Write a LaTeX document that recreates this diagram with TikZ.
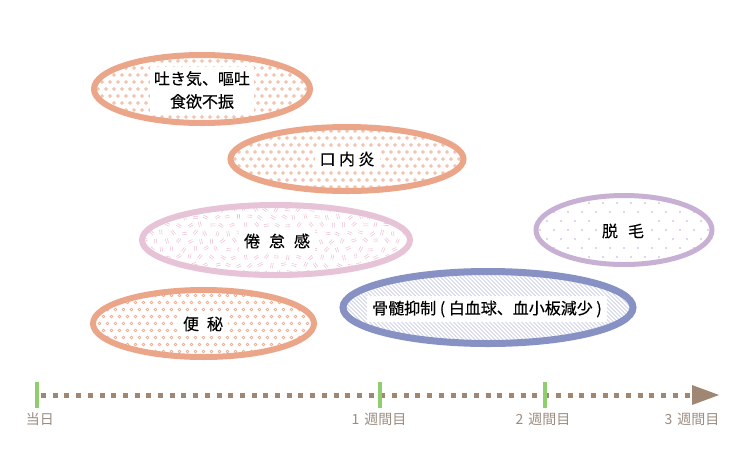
\documentclass[tikz,border=0pt]{standalone}
\usepackage{fontspec}
\setmainfont{Noto Sans CJK JP}
\newfontfamily\labfont[FakeBold=0.35]{Noto Sans CJK JP}
\definecolor{orng}{HTML}{EBA68A}
\definecolor{orngl}{HTML}{EFAE93}
\definecolor{pnk}{HTML}{E6C3D6}
\definecolor{pnkl}{HTML}{EFC0D5}
\definecolor{prp}{HTML}{C7B0D3}
\definecolor{prpl}{HTML}{C9A6D8}
\definecolor{blu}{HTML}{8791C3}
\definecolor{blul}{HTML}{B9BDDB}
\definecolor{brn}{HTML}{A08774}
\definecolor{grn}{HTML}{8FCE6C}
\definecolor{lbl}{HTML}{9C8C80}
\newcommand\myCircFill[4]{%
  \begin{scope}
    \clip (#1,#2) ellipse [x radius=#3, y radius=#4];
    \foreach \r in {-6,...,6}{
      \foreach \c in {-16,...,16}{
        \pgfmathsetmacro\xx{#1+\c*8+mod(abs(\r),2)*4}
        \pgfmathsetmacro\yy{#2+\r*7}
        \draw[orngl, line width=0.7pt] (\xx,\yy) circle [radius=1.45];
      }}
  \end{scope}}
\newcommand\myDotFill[4]{%
  \begin{scope}
    \clip (#1,#2) ellipse [x radius=#3, y radius=#4];
    \foreach \r in {-5,...,5}{
      \foreach \c in {-8,...,8}{
        \pgfmathsetmacro\xx{#1+\c*14+mod(abs(\r),2)*7}
        \pgfmathsetmacro\yy{#2+\r*9}
        \fill[prpl] (\xx,\yy) circle [radius=0.85];
      }}
  \end{scope}}
\newcommand\mySlashFill[4]{%
  \begin{scope}
    \clip (#1,#2) ellipse [x radius=#3, y radius=#4];
    \pgfmathsetseed{11}
    \foreach \r in {-5,...,5}{
      \foreach \c in {-13,...,13}{
        \pgfmathsetmacro\xx{#1+\c*11+mod(abs(\r),2)*5.5+rnd*3}
        \pgfmathsetmacro\yy{#2+\r*8+rnd*2}
        \pgfmathsetmacro\aa{rnd*180}
        \begin{scope}[shift={(\xx,\yy)}, rotate=\aa]
          \draw[pnkl, line width=0.55pt] (-2.5,-1) -- (2.5,-1) (-2.5,1) -- (2.5,1);
        \end{scope}
      }}
  \end{scope}}
\newcommand\myHatchFill[4]{%
  \begin{scope}
    \clip (#1,#2) ellipse [x radius=#3, y radius=#4];
    \foreach \s in {-250,-246,...,160}{
      \draw[blul, line width=0.5pt] (#1+\s,#2-45) -- (#1+\s+90,#2+45);
    }
  \end{scope}}
\begin{document}
\begin{tikzpicture}[x=1pt,y=-1pt,
  ell/.style={line width=6pt},
  lab/.style={fill=white, inner sep=5pt, font=\labfont\fontsize{16}{23}\selectfont, align=center, text=black},
  axlab/.style={text=lbl, font=\fontsize{14}{16}\selectfont, inner sep=0pt},
  tick/.style={grn, line width=4.5pt}]
\useasboundingbox (0,0) rectangle (740,475);

% Nausea
\myCircFill{202}{89}{108}{34}
\draw[orng, ell] (202,89) ellipse [x radius=108, y radius=34];
\node[lab, inner sep=4pt] (n1) at (202,90) {吐き気、嘔吐\\食欲不振};

% Stomatitis
\myCircFill{347}{159}{116.5}{32}
\draw[orng, ell] (347,159) ellipse [x radius=116.5, y radius=32];
\node[lab] (n2) at (347,159) {口\hspace{3.5pt}内\hspace{3.5pt}炎};

% Fatigue
\mySlashFill{276}{240}{134}{35}
\draw[pnk, ell] (276,240) ellipse [x radius=134, y radius=35];
\node[lab] (n3) at (277,241) {倦\hspace{9pt}怠\hspace{9pt}感};

% Hair loss
\myDotFill{624}{230}{88}{34.5}
\draw[prp, line width=5pt] (624,230) ellipse [x radius=88, y radius=34.5];
\node[lab] (n4) at (623,231) {脱\hspace{10pt}毛};

% Bone marrow
\myHatchFill{488}{307.5}{145}{36}
\draw[blu, line width=7pt] (488,307.5) ellipse [x radius=145, y radius=36];
\node[lab] (n5) at (487,309) {骨髄抑制 ( 白血球、血小板減少 )};

% Constipation
\myCircFill{203.5}{323.5}{110.5}{33.5}
\draw[orng, ell] (203.5,323.5) ellipse [x radius=110.5, y radius=33.5];
\node[lab] (n6) at (203,324) {便\hspace{8pt}秘};

% Timeline
\coordinate (t0) at (37,395);
\coordinate (t1) at (380,395);
\coordinate (t2) at (545,395);
\coordinate (tend) at (692,395);
\coordinate (tip) at (719,395);
\draw[brn, line width=5pt, dash pattern=on 5pt off 6.7pt] ([xshift=4pt]t0) -- (tend);
\fill[brn] ([yshift=-10pt]tend) -- (tip) -- ([yshift=10pt]tend) -- cycle;
\foreach \t in {t0,t1,t2}{
  \draw[tick] ([yshift=-13pt]\t) -- ([yshift=13pt]\t);
}
\node[axlab] (l0) at (40,419) {当日};
\node[axlab] (l1) at (379,419) {1\hspace{5pt}週間目};
\node[axlab] (l2) at (543,419) {2\hspace{5pt}週間目};
\node[axlab] (l3) at (692,419) {3\hspace{5pt}週間目};
\end{tikzpicture}
\end{document}
